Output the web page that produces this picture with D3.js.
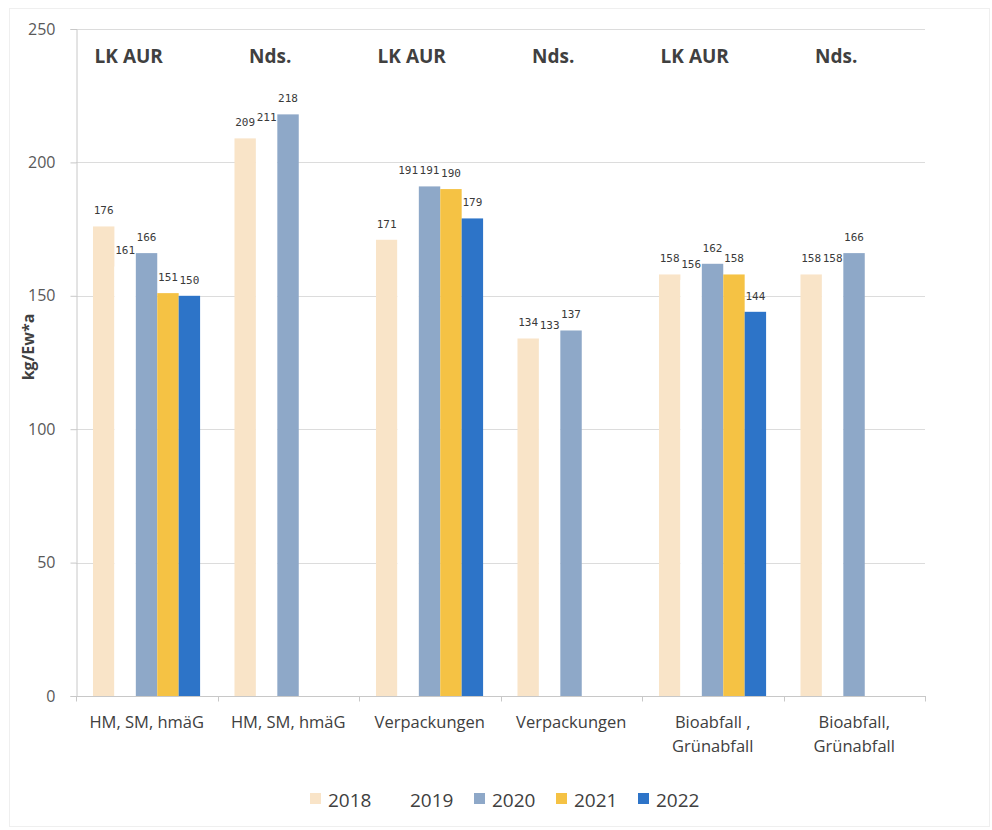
<!DOCTYPE html>
<html>
<head>
<meta charset="utf-8">
<script src="https://cdn.jsdelivr.net/npm/d3@7"></script>
<style>
  html, body { margin: 0; padding: 0; background: #fff; }
  svg { display: block; }
</style>
</head>
<body>
<svg id="chart" width="992" height="830"></svg>
<script>
// Waste quantities per inhabitant and year, district (LK AUR) vs. state (Nds.)
const categories = ["HM, SM, hmäG", "HM, SM, hmäG", "Verpackungen", "Verpackungen", "Bioabfall ,\nGrünabfall", "Bioabfall,\nGrünabfall"];
const regions = ["LK AUR", "Nds.", "LK AUR", "Nds.", "LK AUR", "Nds."];
const years = ["2018", "2019", "2020", "2021", "2022"];
const v2018 = [176, 209, 171, 134, 158, 158];
const v2019 = [161, 211, 191, 133, 156, 158];
const v2020 = [166, 218, 191, 137, 162, 166];
const v2021 = [151, null, 190, null, 158, null];
const v2022 = [150, null, 179, null, 144, null];
const yTicks = [0, 50, 100, 150, 200, 250];
const yTitle = "kg/Ew*a";

const seriesValues = [v2018, v2019, v2020, v2021, v2022];
const colors = ["#f9e4c8", "#ffffff", "#8ea8c8", "#f5c244", "#2d74c8"];

const svg = d3.select("#chart");
const plot = { left: 76, right: 925, top: 29, bottom: 696 };

// faint outer frame of the chart object
svg.append("rect")
  .attr("x", 9.5).attr("y", 8.5).attr("width", 980).attr("height", 818)
  .attr("fill", "none").attr("stroke", "#efefef").attr("stroke-width", 1);

const x0 = d3.scaleBand().domain(d3.range(categories.length)).range([plot.left, plot.right]).padding(0);
const bw = x0.bandwidth();
const x1 = d3.scaleBand().domain(years).range([bw * 0.12, bw * 0.877]).padding(0);
const y = d3.scaleLinear().domain([0, 250]).range([plot.bottom, plot.top]);
const color = d3.scaleOrdinal().domain(years).range(colors);

// horizontal gridlines
svg.append("g")
  .selectAll("line")
  .data(yTicks.filter(t => t > 0))
  .join("line")
  .attr("x1", plot.left).attr("x2", plot.right)
  .attr("y1", d => Math.round(y(d)) + 0.5).attr("y2", d => Math.round(y(d)) + 0.5)
  .attr("stroke", "#dcdcdc").attr("stroke-width", 1);

// y axis
const yAxis = svg.append("g")
  .attr("transform", `translate(${plot.left + 0.5},0)`)
  .call(d3.axisLeft(y).tickValues(yTicks).tickSize(6).tickPadding(15).tickFormat(d3.format("d")));
yAxis.select(".domain").attr("stroke", "#c8c8c8");
yAxis.selectAll(".tick line").attr("stroke", "#c8c8c8");
yAxis.selectAll(".tick text")
  .attr("font-family", "'Open Sans', sans-serif").attr("font-size", 16).attr("fill", "#595959");

// bars
const rows = categories.map((c, i) => ({ i, values: years.map((yr, k) => ({ yr, v: seriesValues[k][i] })) }));
const groups = svg.append("g").selectAll("g")
  .data(rows)
  .join("g")
  .attr("transform", d => `translate(${x0(d.i)},0)`);

groups.selectAll("rect")
  .data(d => d.values.filter(e => e.v !== null))
  .join("rect")
  .attr("x", e => x1(e.yr))
  .attr("y", e => y(e.v))
  .attr("width", x1.bandwidth())
  .attr("height", e => y(0) - y(e.v))
  .attr("fill", e => color(e.yr));

// value labels
groups.selectAll("text.val")
  .data(d => d.values.filter(e => e.v !== null))
  .join("text")
  .attr("class", "val")
  .attr("x", e => x1(e.yr) + x1.bandwidth() / 2)
  .attr("y", e => y(e.v) - 12)
  .attr("text-anchor", "middle")
  .attr("font-family", "'DejaVu Sans Mono', monospace")
  .attr("font-size", 11)
  .attr("fill", "#3a3a3a")
  .text(e => e.v);

// x axis
const xAxisY = Math.round(y(0)) + 0.5;
svg.append("line")
  .attr("x1", plot.left).attr("x2", plot.right + 1)
  .attr("y1", xAxisY).attr("y2", xAxisY)
  .attr("stroke", "#c8c8c8");
svg.append("g").selectAll("line")
  .data(d3.range(categories.length + 1))
  .join("line")
  .attr("x1", i => Math.round(i < categories.length ? x0(i) : plot.right) + 0.5)
  .attr("x2", i => Math.round(i < categories.length ? x0(i) : plot.right) + 0.5)
  .attr("y1", xAxisY).attr("y2", xAxisY + 5)
  .attr("stroke", "#c8c8c8");

// category labels (may wrap to two lines)
const catLabels = svg.append("g").selectAll("text")
  .data(categories)
  .join("text")
  .attr("x", (d, i) => x0(i) + bw / 2)
  .attr("y", 728)
  .attr("text-anchor", "middle")
  .attr("font-family", "'Open Sans', sans-serif")
  .attr("font-size", 16.5)
  .attr("fill", "#404040");
catLabels.each(function(d) {
  const t = d3.select(this);
  d.split("\n").forEach((line, k) => {
    t.append("tspan").attr("x", t.attr("x")).attr("dy", k === 0 ? 0 : 24).text(line);
  });
});

// region headers
svg.append("g").selectAll("text")
  .data(regions)
  .join("text")
  .attr("x", (d, i) => x0(i) + bw / 2 - 18)
  .attr("y", 63)
  .attr("text-anchor", "middle")
  .attr("font-family", "'Open Sans', sans-serif")
  .attr("font-weight", "bold")
  .attr("font-size", 19)
  .attr("fill", "#404040")
  .text(d => d);

// y axis title
svg.append("text")
  .attr("transform", "translate(34,347) rotate(-90)")
  .attr("text-anchor", "middle")
  .attr("font-family", "'Open Sans', sans-serif")
  .attr("font-weight", "bold")
  .attr("font-size", 16)
  .attr("fill", "#404040")
  .text(yTitle);

// legend
const legend = svg.append("g").selectAll("g")
  .data(years)
  .join("g")
  .attr("transform", (d, i) => `translate(${310 + i * 82},799)`);
legend.append("rect")
  .attr("x", 0).attr("y", -6).attr("width", 11).attr("height", 11)
  .attr("fill", d => color(d));
legend.append("text")
  .attr("x", 18).attr("y", 8)
  .attr("font-family", "'Open Sans', sans-serif")
  .attr("font-size", 19)
  .attr("fill", "#404040")
  .text(d => d);
</script>
</body>
</html>
